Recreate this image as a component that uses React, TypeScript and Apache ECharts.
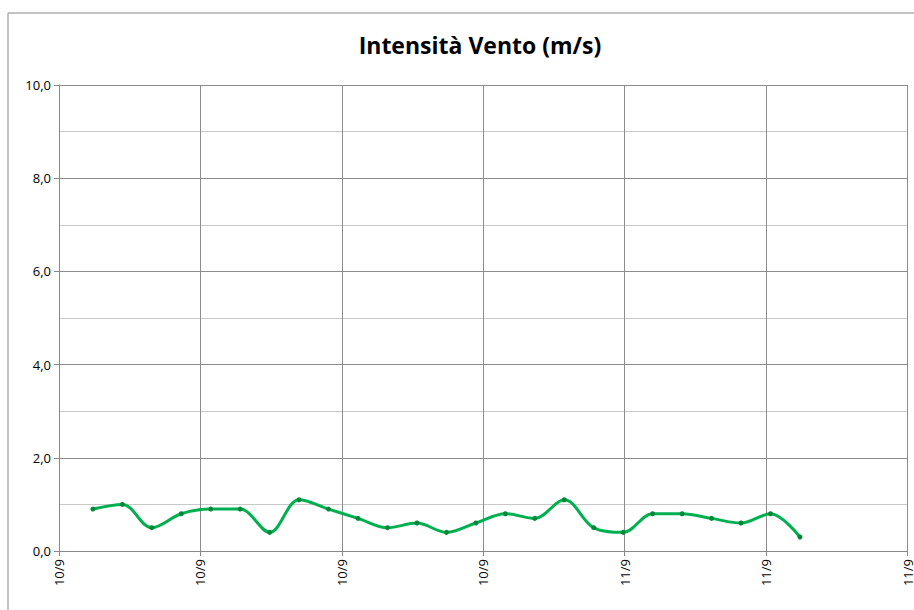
import React, { useEffect, useRef } from "react";
import * as echarts from "echarts";

const title = "Intensità Vento (m/s)";
// hours from the axis start (10/9 06:00)
const hours = [1.15, 2.15, 3.15, 4.15, 5.15, 6.15, 7.15, 8.15, 9.15, 10.15, 11.15, 12.15, 13.15, 14.15, 15.15, 16.15, 17.15, 18.15, 19.15, 20.15, 21.15, 22.15, 23.15, 24.15, 25.15];
const speeds = [0.9, 1.0, 0.5, 0.8, 0.9, 0.9, 0.4, 1.1, 0.9, 0.7, 0.5, 0.6, 0.4, 0.6, 0.8, 0.7, 1.1, 0.5, 0.4, 0.8, 0.8, 0.7, 0.6, 0.8, 0.3];
const xTickLabels = ["10/9", "10/9", "10/9", "10/9", "11/9", "11/9", "11/9"];
const xInterval = 4.8;
const xMax = 28.8;

export default function App() {
  const ref = useRef<HTMLDivElement>(null);
  useEffect(() => {
    if (!ref.current) return;
    const chart = echarts.init(ref.current, null, { renderer: "svg" });
    const font = "'Open Sans', 'Liberation Sans', sans-serif";
    chart.setOption({
      animation: false,
      backgroundColor: "#ffffff",
      title: {
        text: title,
        left: 475,
        top: 28,
        textAlign: "center",
        textStyle: { fontFamily: font, fontSize: 23, fontWeight: "bold", color: "#000" },
      },
      graphic: [
        {
          type: "rect",
          shape: { x: 8, y: 13, width: 920, height: 620 },
          style: { fill: "none", stroke: "#888888", lineWidth: 1 },
          silent: true,
        },
      ],
      grid: { left: 59, right: 5, top: 85, bottom: 59, containLabel: false },
      xAxis: {
        type: "value",
        min: 0,
        max: xMax,
        interval: xInterval,
        axisLine: { show: true, lineStyle: { color: "#888888" } },
        axisTick: { show: true, length: 5, lineStyle: { color: "#888888" } },
        splitLine: { show: true, lineStyle: { color: "#8c8c8c", width: 1 } },
        axisLabel: {
          rotate: 90,
          margin: 8,
          fontFamily: font,
          fontSize: 13,
          color: "#000",
          formatter: (v: number) => xTickLabels[Math.round(v / xInterval)] ?? "",
        },
      },
      yAxis: {
        type: "value",
        min: 0,
        max: 10,
        interval: 2,
        axisLine: { show: true, lineStyle: { color: "#888888" } },
        axisTick: { show: true, length: 5, lineStyle: { color: "#888888" } },
        splitLine: { show: true, lineStyle: { color: "#8c8c8c", width: 1 } },
        minorTick: { show: false, splitNumber: 2 },
        minorSplitLine: { show: true, lineStyle: { color: "#c8c8c8", width: 1 } },
        axisLabel: {
          margin: 8,
          fontFamily: font,
          fontSize: 13,
          color: "#000",
          formatter: (v: number) => v.toFixed(1).replace(".", ","),
        },
      },
      series: [
        {
          type: "line",
          data: hours.map((h, i) => [h, speeds[i]]),
          smooth: 0.35,
          symbol: "circle",
          symbolSize: 5,
          lineStyle: { color: "#00b050", width: 3 },
          itemStyle: { color: "#00873a", borderWidth: 0 },
        },
      ],
    });
    return () => chart.dispose();
  }, []);
  return <div ref={ref} style={{ width: 914, height: 610, position: "absolute", left: 0, top: 0 }} />;
}
